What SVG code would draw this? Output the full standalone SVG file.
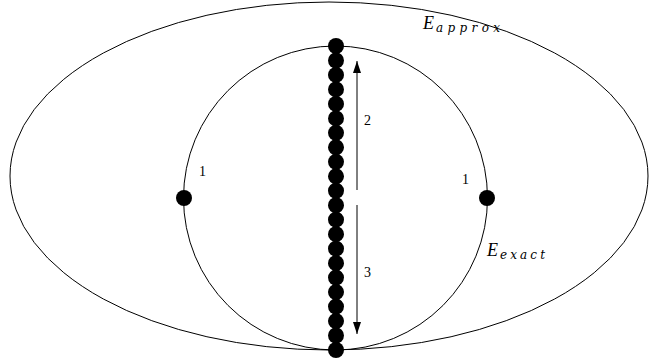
<svg xmlns="http://www.w3.org/2000/svg" width="649" height="358" viewBox="0 0 649 358">
<style>
.ln{fill:none;stroke:#000;stroke-width:1}
.dot{fill:#000}
.num{font-family:"Liberation Serif",serif;font-size:14px;fill:#000}
.lab{font-family:"Liberation Serif",serif;font-style:italic;font-size:18px;fill:#000}
.sub{font-family:"DejaVu Serif",serif;font-size:12px}
</style>
<defs>
<marker id="ah" markerWidth="12" markerHeight="8" refX="12" refY="4" orient="auto" markerUnits="userSpaceOnUse">
<path d="M0,0 L12,4 L0,8 Z" fill="#000"/>
</marker>
</defs>
<rect width="649" height="358" fill="#fff"/>
<g id="E_approx">
<ellipse class="ln" cx="329" cy="176" rx="319" ry="174"/>
<text class="lab" x="423" y="29">E</text>
<text class="lab sub" x="436" y="32" textLength="64" lengthAdjust="spacing">approx</text>
</g>
<g id="E_exact">
<circle class="ln" cx="335.5" cy="198" r="152"/>
<text class="lab" x="487" y="256">E</text>
<text class="lab sub" x="500" y="259" textLength="45" lengthAdjust="spacing">exact</text>
</g>
<g id="chain">
<circle class="dot" cx="336" cy="46" r="8"/>
<circle class="dot" cx="336" cy="60.48" r="8"/>
<circle class="dot" cx="336" cy="74.95" r="8"/>
<circle class="dot" cx="336" cy="89.43" r="8"/>
<circle class="dot" cx="336" cy="103.9" r="8"/>
<circle class="dot" cx="336" cy="118.38" r="8"/>
<circle class="dot" cx="336" cy="132.86" r="8"/>
<circle class="dot" cx="336" cy="147.33" r="8"/>
<circle class="dot" cx="336" cy="161.81" r="8"/>
<circle class="dot" cx="336" cy="176.29" r="8"/>
<circle class="dot" cx="336" cy="190.76" r="8"/>
<circle class="dot" cx="336" cy="205.24" r="8"/>
<circle class="dot" cx="336" cy="219.71" r="8"/>
<circle class="dot" cx="336" cy="234.19" r="8"/>
<circle class="dot" cx="336" cy="248.67" r="8"/>
<circle class="dot" cx="336" cy="263.14" r="8"/>
<circle class="dot" cx="336" cy="277.62" r="8"/>
<circle class="dot" cx="336" cy="292.1" r="8"/>
<circle class="dot" cx="336" cy="306.57" r="8"/>
<circle class="dot" cx="336" cy="321.05" r="8"/>
<circle class="dot" cx="336" cy="335.52" r="8"/>
<circle class="dot" cx="336" cy="350" r="8"/>
</g>
<g id="left_point">
<circle class="dot" cx="184" cy="198" r="8"/>
<text class="num" x="199" y="176">1</text>
</g>
<g id="right_point">
<circle class="dot" cx="487" cy="198" r="8"/>
<text class="num" x="462" y="184">1</text>
</g>
<g id="connectors">
<line class="ln" x1="357" y1="190" x2="357" y2="61" marker-end="url(#ah)"/>
<line class="ln" x1="357" y1="205" x2="357" y2="334" marker-end="url(#ah)"/>
</g>
<g id="labels">
<text class="num" x="364" y="125">2</text>
<text class="num" x="364" y="277">3</text>
</g>
</svg>
